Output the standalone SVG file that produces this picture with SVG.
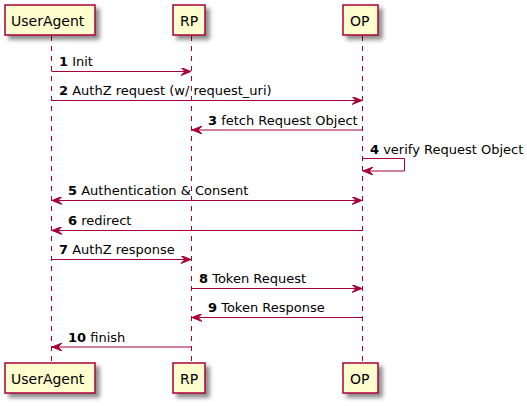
<svg xmlns="http://www.w3.org/2000/svg" width="527" height="406" viewBox="0 0 527 406">
<defs>
<filter id="sh" x="-20%" y="-30%" width="150%" height="180%">
<feGaussianBlur in="SourceAlpha" stdDeviation="2" result="b"/>
<feColorMatrix in="b" type="matrix" values="0 0 0 0 0  0 0 0 0 0  0 0 0 0 0  0 0 0 0.45 0" result="c"/>
<feOffset in="c" dx="4" dy="4" result="o"/>
<feMerge><feMergeNode in="o"/><feMergeNode in="SourceGraphic"/></feMerge>
</filter>
<marker id="ah" viewBox="0 0 10 8" refX="10" refY="4" markerWidth="10" markerHeight="8" markerUnits="userSpaceOnUse" orient="auto-start-reverse">
<polygon points="0,0 10,4 0,8 4,4" fill="#A80036" stroke="#A80036" stroke-width="1"/>
</marker>
</defs>
<style>
.box{fill:#FEFECE;stroke:#A80036;stroke-width:1.5;filter:url(#sh)}
.life{stroke:#A80036;stroke-width:1;stroke-dasharray:5,5;fill:none}
.pt{font-family:"DejaVu Sans","Liberation Sans",sans-serif;font-size:14px;fill:#000}
.msg{stroke:#A80036;stroke-width:1;fill:none}
.mt{font-family:"DejaVu Sans","Liberation Sans",sans-serif;font-size:13px;fill:#000}
.b{font-weight:bold}
</style>
<rect width="527" height="406" fill="#FFFFFF"/>
<g id="lifelines">
<line class="life" x1="51.5" y1="36" x2="51.5" y2="363"/>
<line class="life" x1="191.5" y1="36" x2="191.5" y2="363"/>
<line class="life" x1="362.5" y1="36" x2="362.5" y2="363"/>
</g>
<g id="UserAgent">
<rect class="box" x="5" y="5" width="90" height="30"/>
<text class="pt" x="11" y="26">UserAgent</text>
<rect class="box" x="5" y="363" width="90" height="30"/>
<text class="pt" x="11" y="384">UserAgent</text>
</g>
<g id="RP">
<rect class="box" x="173" y="5" width="32" height="30"/>
<text class="pt" x="180" y="26">RP</text>
<rect class="box" x="173" y="363" width="32" height="30"/>
<text class="pt" x="180" y="384">RP</text>
</g>
<g id="OP">
<rect class="box" x="343" y="5" width="35" height="30"/>
<text class="pt" x="350" y="26">OP</text>
<rect class="box" x="343" y="363" width="35" height="30"/>
<text class="pt" x="350" y="384">OP</text>
</g>
<g id="connectors">
<line class="msg" x1="51.5" y1="71.5" x2="191" y2="71.5" marker-end="url(#ah)"/>
<text class="mt" x="59" y="66"><tspan class="b">1</tspan> Init</text>
<line class="msg" x1="51.5" y1="100.5" x2="362" y2="100.5" marker-end="url(#ah)"/>
<text class="mt" x="59" y="95"><tspan class="b">2</tspan> AuthZ request (w/ request_uri)</text>
<line class="msg" x1="362.5" y1="130" x2="192" y2="130" marker-end="url(#ah)"/>
<text class="mt" x="208" y="124.5"><tspan class="b">3</tspan> fetch Request Object</text>
<polyline class="msg" points="362.5,158.5 404.5,158.5 404.5,171 363,171" marker-end="url(#ah)"/>
<text class="mt" x="370" y="154"><tspan class="b">4</tspan> verify Request Object</text>
<line class="msg" x1="52" y1="200.5" x2="362" y2="200.5" marker-start="url(#ah)" marker-end="url(#ah)"/>
<text class="mt" x="68" y="195"><tspan class="b">5</tspan> Authentication &amp; Consent</text>
<line class="msg" x1="362.5" y1="230.5" x2="52" y2="230.5" marker-end="url(#ah)"/>
<text class="mt" x="68" y="225"><tspan class="b">6</tspan> redirect</text>
<line class="msg" x1="51.5" y1="259.5" x2="191" y2="259.5" marker-end="url(#ah)"/>
<text class="mt" x="59" y="254"><tspan class="b">7</tspan> AuthZ response</text>
<line class="msg" x1="191.5" y1="288.5" x2="362" y2="288.5" marker-end="url(#ah)"/>
<text class="mt" x="199" y="283"><tspan class="b">8</tspan> Token Request</text>
<line class="msg" x1="362.5" y1="317.5" x2="192" y2="317.5" marker-end="url(#ah)"/>
<text class="mt" x="208" y="312"><tspan class="b">9</tspan> Token Response</text>
<line class="msg" x1="191.5" y1="347" x2="52" y2="347" marker-end="url(#ah)"/>
<text class="mt" x="68" y="341.5"><tspan class="b">10</tspan> finish</text>
</g>
</svg>
